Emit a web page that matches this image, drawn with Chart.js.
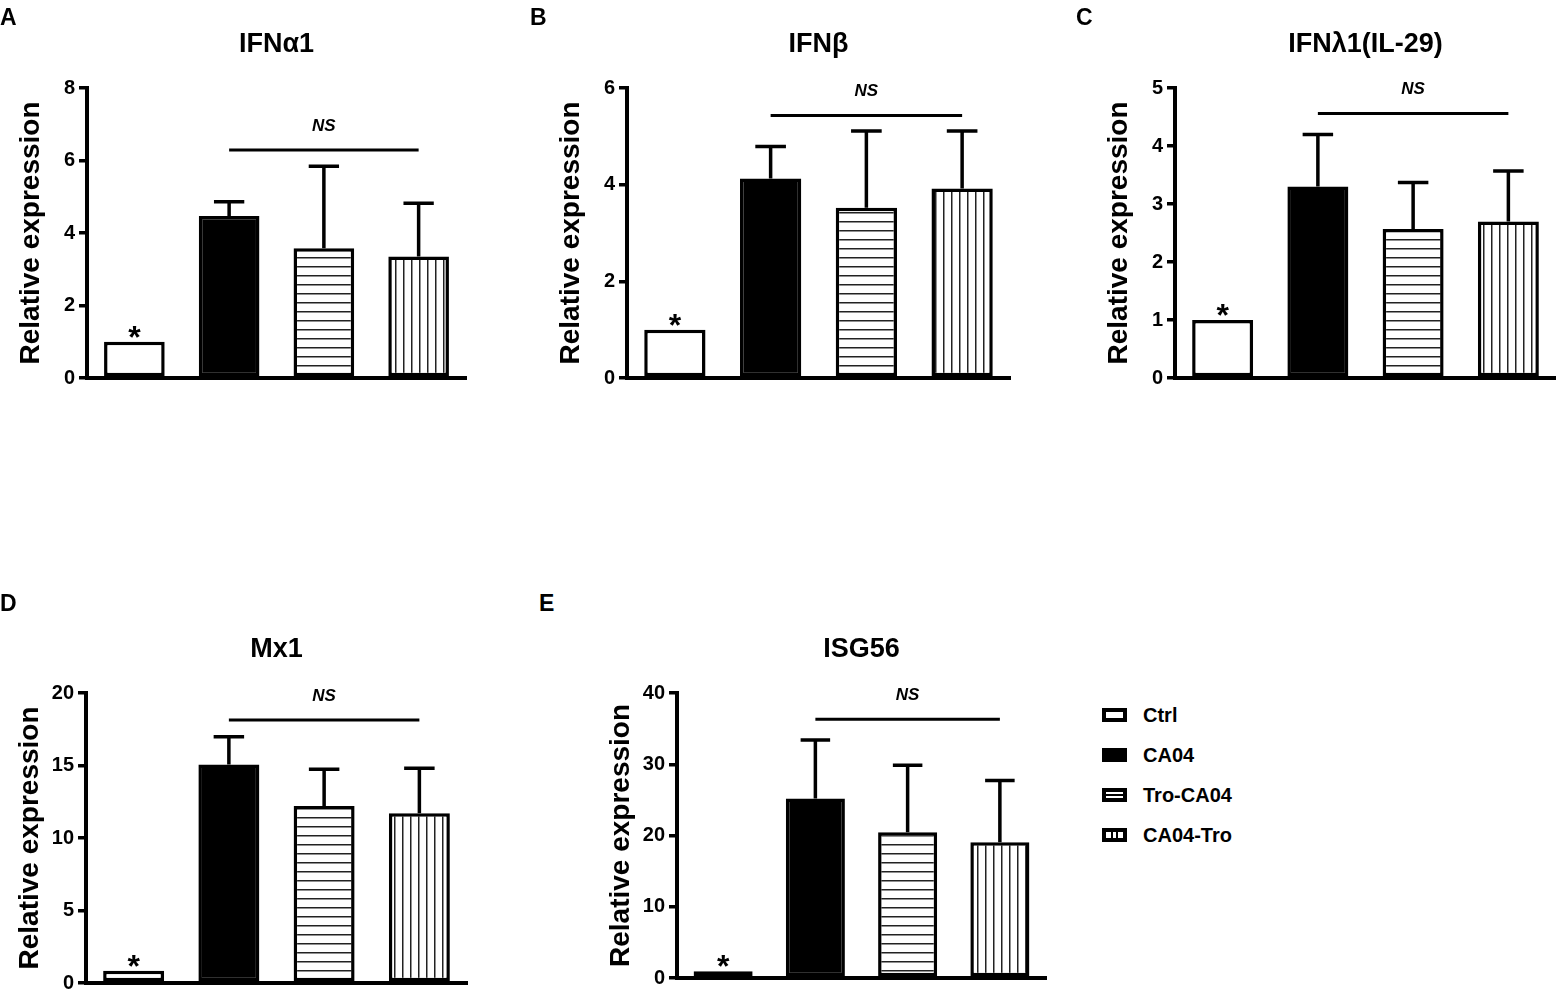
<!DOCTYPE html>
<html>
<head>
<meta charset="utf-8">
<title>Relative expression</title>
<script src="https://cdn.jsdelivr.net/npm/chart.js@4.4.1/dist/chart.umd.min.js"></script>
<style>
  body { margin: 0; background: #fff; width: 1556px; height: 994px; position: relative; overflow: hidden;
         font-family: "Liberation Sans", Arial, sans-serif; font-weight: bold; color: #000; }
  canvas { position: absolute; }
  .tag { position: absolute; font-size: 23px; line-height: 1; transform: translateY(-50%); }
  .ttl { position: absolute; font-size: 27px; line-height: 1; white-space: nowrap; transform: translate(-50%, -50%); }
  .leg { position: absolute; left: 1102px; font-size: 20px; line-height: 1; display: flex; align-items: center; transform: translateY(-50%); }
  .sw { display: inline-block; width: 25px; height: 14px; box-sizing: border-box; border: 4px solid #000; margin-right: 16px; background: #fff; }
</style>
</head>
<body>
<div id="figure"></div>
<script>
// groupes et valeurs
const groups = ["Ctrl", "CA04", "Tro-CA04", "CA04-Tro"];
const panelTags = ["A", "B", "C", "D", "E"];
const panelNames = ["IFNα1", "IFNβ", "IFNλ1(IL-29)", "Mx1", "ISG56"];
const yMaxes = [8, 6, 5, 20, 40];
const ySteps = [2, 2, 1, 5, 10];

const ifna1Mean = [1, 4.47, 3.58, 3.35];
const ifna1Sd = [0, 0.39, 2.26, 1.47];
const ifnbMean = [1, 4.13, 3.52, 3.92];
const ifnbSd = [0, 0.66, 1.59, 1.19];
const ifnl1Mean = [1, 3.30, 2.57, 2.70];
const ifnl1Sd = [0, 0.90, 0.80, 0.87];
const mx1Mean = [0.85, 15.07, 12.2, 11.7];
const mx1Sd = [0, 1.92, 2.55, 3.11];
const isg56Mean = [0.93, 25.2, 20.46, 19.07];
const isg56Sd = [0, 8.2, 9.39, 8.65];

// hauteur de la barre "NS" (unités de l'axe y)
const nsLevels = [6.29, 5.43, 4.56, 18.13, 36.3];

const means = [ifna1Mean, ifnbMean, ifnl1Mean, mx1Mean, isg56Mean];
const sds = [ifna1Sd, ifnbSd, ifnl1Sd, mx1Sd, isg56Sd];

// zone de tracé de chaque panneau (pixels de la page)
const areas = [
    { left: 87, right: 466, top: 88, bottom: 380, titleY: 43, tagX: 0, tagY: 17 },
    { left: 627, right: 1010, top: 88, bottom: 380, titleY: 43, tagX: 530, tagY: 17 },
    { left: 1175, right: 1556, top: 88, bottom: 380, titleY: 43, tagX: 1076, tagY: 17 },
    { left: 86, right: 467, top: 693, bottom: 985, titleY: 648, tagX: 0, tagY: 603 },
    { left: 677, right: 1046, top: 693, bottom: 980, titleY: 648, tagX: 539, tagY: 603 }
];

Chart.defaults.font.family = "'Liberation Sans', Arial, sans-serif";
Chart.defaults.font.weight = "bold";
Chart.defaults.color = "#000";

// motifs de remplissage (rayures)
function makePattern(horizontal) {
    const c = document.createElement("canvas");
    c.width = horizontal ? 4 : 8;
    c.height = horizontal ? 9 : 4;
    const g = c.getContext("2d");
    g.fillStyle = "#fff";
    g.fillRect(0, 0, c.width, c.height);
    g.fillStyle = "#222";
    if (horizontal) g.fillRect(0, 4, c.width, 1.5);
    else g.fillRect(3, 0, 1.5, c.height);
    return g.createPattern(c, "repeat");
}

// barres d'erreur, astérisque et "NS"
const marksPlugin = {
    id: "marks",
    afterDatasetsDraw(chart, args, opts) {
        const ctx = chart.ctx;
        const bars = chart.getDatasetMeta(0).data;
        const yScale = chart.scales.y;
        ctx.save();
        ctx.strokeStyle = "#000";
        ctx.fillStyle = "#000";
        ctx.lineWidth = 3.5;
        opts.sd.forEach((s, i) => {
            if (!s) return;
            const bar = bars[i];
            const yTop = yScale.getPixelForValue(opts.mean[i] + s);
            const half = bar.width / 4;
            ctx.beginPath();
            ctx.moveTo(bar.x, bar.y);
            ctx.lineTo(bar.x, yTop);
            ctx.moveTo(bar.x - half, yTop);
            ctx.lineTo(bar.x + half, yTop);
            ctx.stroke();
        });

        const ctrl = bars[0];
        ctx.font = "bold 32px 'Liberation Sans', Arial, sans-serif";
        ctx.textAlign = "center";
        ctx.textBaseline = "alphabetic";
        ctx.fillText("*", ctrl.x, ctrl.y + 6);

        const ny = yScale.getPixelForValue(opts.ns);
        ctx.lineWidth = 3;
        ctx.beginPath();
        ctx.moveTo(bars[1].x, ny);
        ctx.lineTo(bars[3].x, ny);
        ctx.stroke();
        ctx.font = "italic bold 17px 'Liberation Sans', Arial, sans-serif";
        ctx.textBaseline = "middle";
        ctx.fillText("NS", (bars[1].x + bars[3].x) / 2, ny - 24);
        ctx.restore();
    }
};

const fig = document.getElementById("figure");
const hPattern = makePattern(true);
const vPattern = makePattern(false);

function addText(cls, text, x, y) {
    const d = document.createElement("div");
    d.className = cls;
    d.textContent = text;
    d.style.left = x + "px";
    d.style.top = y + "px";
    fig.appendChild(d);
}

areas.forEach((a, p) => {
    const cx = a.left - 87;
    const cy = a.top - 60;
    const cw = Math.min(1556, a.right + 10) - cx;
    const ch = a.bottom + 14 - cy;

    const canvas = document.createElement("canvas");
    canvas.style.left = cx + "px";
    canvas.style.top = cy + "px";
    canvas.style.width = cw + "px";
    canvas.style.height = ch + "px";
    canvas.width = cw;
    canvas.height = ch;
    fig.appendChild(canvas);

    addText("ttl", panelNames[p], (a.left + a.right) / 2, a.titleY);
    addText("tag", panelTags[p], a.tagX, a.tagY);

    new Chart(canvas.getContext("2d"), {
        type: "bar",
        data: {
            labels: groups,
            datasets: [{
                data: means[p],
                backgroundColor: ["#fff", "#000", hPattern, vPattern],
                borderColor: "#000",
                borderWidth: 3.5,
                borderSkipped: false,
                barPercentage: 0.64,
                categoryPercentage: 1
            }]
        },
        options: {
            responsive: false,
            animation: false,
            events: [],
            layout: { padding: { left: 0, top: 60, right: cx + cw - a.right, bottom: 14 } },
            plugins: {
                legend: { display: false },
                tooltip: { enabled: false },
                marks: { mean: means[p], sd: sds[p], ns: nsLevels[p] }
            },
            scales: {
                x: {
                    ticks: { display: false },
                    grid: { display: false },
                    border: { display: true, color: "#000", width: 4 },
                    afterFit(scale) { scale.height = 0; }
                },
                y: {
                    min: 0,
                    max: yMaxes[p],
                    ticks: { stepSize: ySteps[p], padding: 4, font: { size: 20, weight: "bold" }, color: "#000" },
                    grid: { drawOnChartArea: false, drawTicks: true, tickLength: 8, color: "#000", lineWidth: 3.5 },
                    border: { display: true, color: "#000", width: 4 },
                    title: {
                        display: true,
                        text: "Relative expression",
                        color: "#000",
                        font: { size: 28, weight: "bold" },
                        padding: { top: 14, bottom: 0 }
                    },
                    afterFit(scale) { scale.width = 87; }
                }
            }
        },
        plugins: [marksPlugin]
    });
});

// légende
const legendRows = [715, 755, 795, 835];
const swatchFills = [
    "#fff",
    "#000",
    "linear-gradient(#fff 0 35%, #000 35% 65%, #fff 65%)",
    "linear-gradient(to right, #fff 0 30%, #000 30% 40%, #fff 40% 60%, #000 60% 70%, #fff 70%)"
];
groups.forEach((name, i) => {
    const row = document.createElement("div");
    row.className = "leg";
    row.style.top = legendRows[i] + "px";
    const sw = document.createElement("span");
    sw.className = "sw";
    sw.style.background = swatchFills[i];
    row.appendChild(sw);
    row.appendChild(document.createTextNode(name));
    fig.appendChild(row);
});
</script>
</body>
</html>
